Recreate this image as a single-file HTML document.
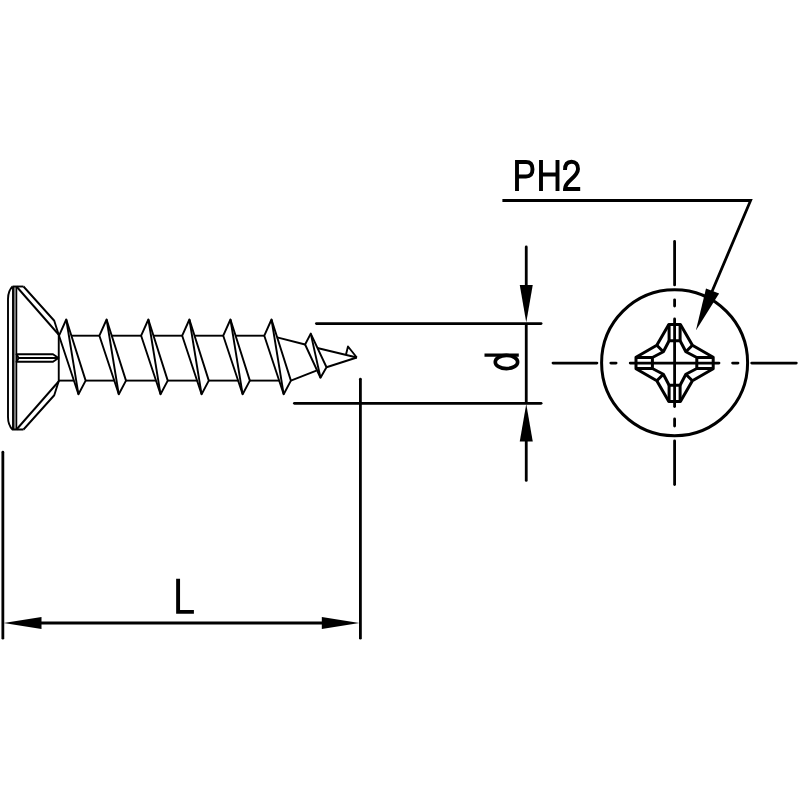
<!DOCTYPE html>
<html><head><meta charset="utf-8"><style>
html,body{margin:0;padding:0;background:#fff;}
svg{display:block;}
</style></head><body>
<svg width="800" height="800" viewBox="0 0 800 800">
<rect width="800" height="800" fill="#fff"/>
<g fill="none" stroke="#000" stroke-width="1.9" stroke-linejoin="round">
<rect x="13" y="287" width="3.5" height="142" fill="#7a7a7a" stroke="none"/>
<path d="M12.5,286.5 Q8,291 8,299 V417 Q8,425 12.5,429.5 H23.5" fill="none"/>
<line x1="12.5" y1="286.5" x2="23.5" y2="286.5"/>
<line x1="13" y1="286.5" x2="13" y2="429.5"/>
<line x1="16.6" y1="286.5" x2="16.6" y2="429.5" stroke-width="1.3"/>
<polyline points="23.5,286.5 54.25,320.75 58.6,334.5"/>
<polyline points="23.5,429.5 54.25,395.25 58.6,381.5"/>
<line x1="16.5" y1="286.5" x2="58.6" y2="334.5"/>
<line x1="16.5" y1="429.5" x2="58.6" y2="381.5"/>
<line x1="58.75" y1="334" x2="58.75" y2="382"/>
<path d="M16.5,354.25 H53 L58.5,358 L53,361.75 H16.5 L18.5,358 Z" fill="#fff"/>
<line x1="18.5" y1="358" x2="58.5" y2="358"/>
<polygon points="66.25,319.5 59.05,335.7 78.45,394.3 85.65,380.6"/>
<line x1="66.25" y1="319.5" x2="78.45" y2="394.3"/>
<polygon points="106.6,319.5 99.4,335.7 118.8,394.3 126,380.6"/>
<line x1="106.6" y1="319.5" x2="118.8" y2="394.3"/>
<polygon points="148.35,319.5 141.15,335.7 160.55,394.3 167.75,380.6"/>
<line x1="148.35" y1="319.5" x2="160.55" y2="394.3"/>
<polygon points="189.4,319.5 182.2,335.7 201.6,394.3 208.8,380.6"/>
<line x1="189.4" y1="319.5" x2="201.6" y2="394.3"/>
<polygon points="230.45,319.5 223.25,335.7 242.65,394.3 249.85,380.6"/>
<line x1="230.45" y1="319.5" x2="242.65" y2="394.3"/>
<polygon points="271.5,319.5 264.3,335.7 283.7,394.3 290.9,380.6"/>
<line x1="271.5" y1="319.5" x2="283.7" y2="394.3"/>
<polygon points="310.75,333.6 305.1,344.5 320.5,377.75 326.5,367.25"/>
<line x1="310.75" y1="333.6" x2="320.5" y2="377.75"/>
<polyline points="346,354.6 348,346.5 356.8,357.5"/>
<line x1="71.39" y1="335.7" x2="99.4" y2="335.7"/>
<line x1="85.65" y1="380.6" x2="114.26" y2="380.6"/>
<line x1="111.74" y1="335.7" x2="141.15" y2="335.7"/>
<line x1="126" y1="380.6" x2="156.01" y2="380.6"/>
<line x1="153.49" y1="335.7" x2="182.2" y2="335.7"/>
<line x1="167.75" y1="380.6" x2="197.06" y2="380.6"/>
<line x1="194.54" y1="335.7" x2="223.25" y2="335.7"/>
<line x1="208.8" y1="380.6" x2="238.11" y2="380.6"/>
<line x1="235.59" y1="335.7" x2="264.3" y2="335.7"/>
<line x1="249.85" y1="380.6" x2="279.16" y2="380.6"/>
<line x1="58.75" y1="380.6" x2="73.91" y2="380.6"/>
<line x1="277.15" y1="337.3" x2="305.1" y2="344.5"/>
<line x1="290.9" y1="380.6" x2="316.4" y2="370.7"/>
<line x1="317.3" y1="348" x2="356.8" y2="357.5"/>
<line x1="326.5" y1="367.25" x2="356.8" y2="357.5"/>
</g>
<g stroke="#000" stroke-width="2.8" fill="none" stroke-linecap="round">
<line x1="316.4" y1="323.6" x2="541.1" y2="323.6"/>
<line x1="294.4" y1="403.3" x2="541.1" y2="403.3"/>
<line x1="526.25" y1="247" x2="526.25" y2="287"/>
<line x1="526.25" y1="323.6" x2="526.25" y2="403.3" stroke-linecap="butt"/>
<line x1="526.25" y1="439" x2="526.25" y2="480.4"/>
<line x1="2.85" y1="452.15" x2="2.85" y2="638.2"/>
<line x1="360.4" y1="379.15" x2="360.4" y2="638.2"/>
<line x1="40" y1="623" x2="323" y2="623"/>
<polyline points="502.4,200.5 750.6,200.5 712,291.5" stroke-linecap="butt"/>
</g>
<g fill="#000" stroke="none">
<polygon points="526.25,322.5 519.75,285 532.75,285"/>
<polygon points="526.25,404 519.75,441.6 532.75,441.6"/>
<polygon points="3.6,623 41.5,617 41.5,629"/>
<polygon points="359.4,623 321.8,617 321.8,629"/>
<polygon points="695.9,330.4 706,288.4 719.1,293.6"/>
</g>
<!-- text -->
<g stroke="#000" fill="none">
<path d="M178.1,578.75 V611.9 H193.9" stroke-width="3.9"/>
<path d="M484.5,355.1 H518.8" stroke-width="3.4"/>
<ellipse cx="506.45" cy="362" rx="11.2" ry="6.6" stroke-width="3.6"/>
<g stroke-width="3.9">
<path d="M517,191 V162 H526 C530.5,162 532.5,165 532.5,169.3 C532.5,173.5 530.5,176.5 526,176.5 H517"/>
<path d="M541,160 V191 M557.5,160 V191 M541,174.5 H557.5"/>
<path d="M565,170 C565,164 568,161.7 571.5,161.7 C575.5,161.7 578,164.5 578,169 C578,173 575,176 571,179.5 C567,183 565,186 565,189 H580.2"/>
</g>
</g>
<!-- head view -->
<g stroke="#000" fill="none">
<circle cx="674.6" cy="362.7" r="73" stroke-width="3"/>
<g stroke-width="2.8" stroke-linecap="round">
<line x1="553" y1="363.1" x2="596.9" y2="363.1"/>
<line x1="610.8" y1="363.1" x2="616.1" y2="363.1"/>
<line x1="630.2" y1="363.1" x2="719" y2="363.1"/>
<line x1="732.6" y1="363.1" x2="738" y2="363.1"/>
<line x1="751.7" y1="363.1" x2="796.3" y2="363.1"/>
<line x1="674.6" y1="241.4" x2="674.6" y2="284.9"/>
<line x1="674.6" y1="299.8" x2="674.6" y2="306.1"/>
<line x1="674.6" y1="318.9" x2="674.6" y2="406.6"/>
<line x1="674.6" y1="418.9" x2="674.6" y2="426.1"/>
<line x1="674.6" y1="440.8" x2="674.6" y2="484.6"/>
</g>
<g transform="translate(674.6,363)" stroke-width="3" stroke-linejoin="round">
<polygon points="-5.8,-38.6 5.8,-38.6 17.8,-17.8 38.6,-5.8 38.6,5.8 17.8,17.8 5.8,38.6 -5.8,38.6 -17.8,17.8 -38.6,5.8 -38.6,-5.8 -17.8,-17.8"/>
<polygon points="-5.5,-22.2 5.5,-22.2 11.25,-11.25 22.2,-5.5 22.2,5.5 11.25,11.25 5.5,22.2 -5.5,22.2 -11.25,11.25 -22.2,5.5 -22.2,-5.5 -11.25,-11.25"/>
<path d="M-5.5,-38.6 V-22.2 M5.5,-38.6 V-22.2 M-5.5,38.6 V22.2 M5.5,38.6 V22.2 M-38.6,-5.5 H-22.2 M-38.6,5.5 H-22.2 M38.6,-5.5 H22.2 M38.6,5.5 H22.2"/>
<path d="M-17.8,-17.8 L-11.25,-11.25 M17.8,-17.8 L11.25,-11.25 M-17.8,17.8 L-11.25,11.25 M17.8,17.8 L11.25,11.25"/>
</g>
</g>
</svg>
</body></html>
